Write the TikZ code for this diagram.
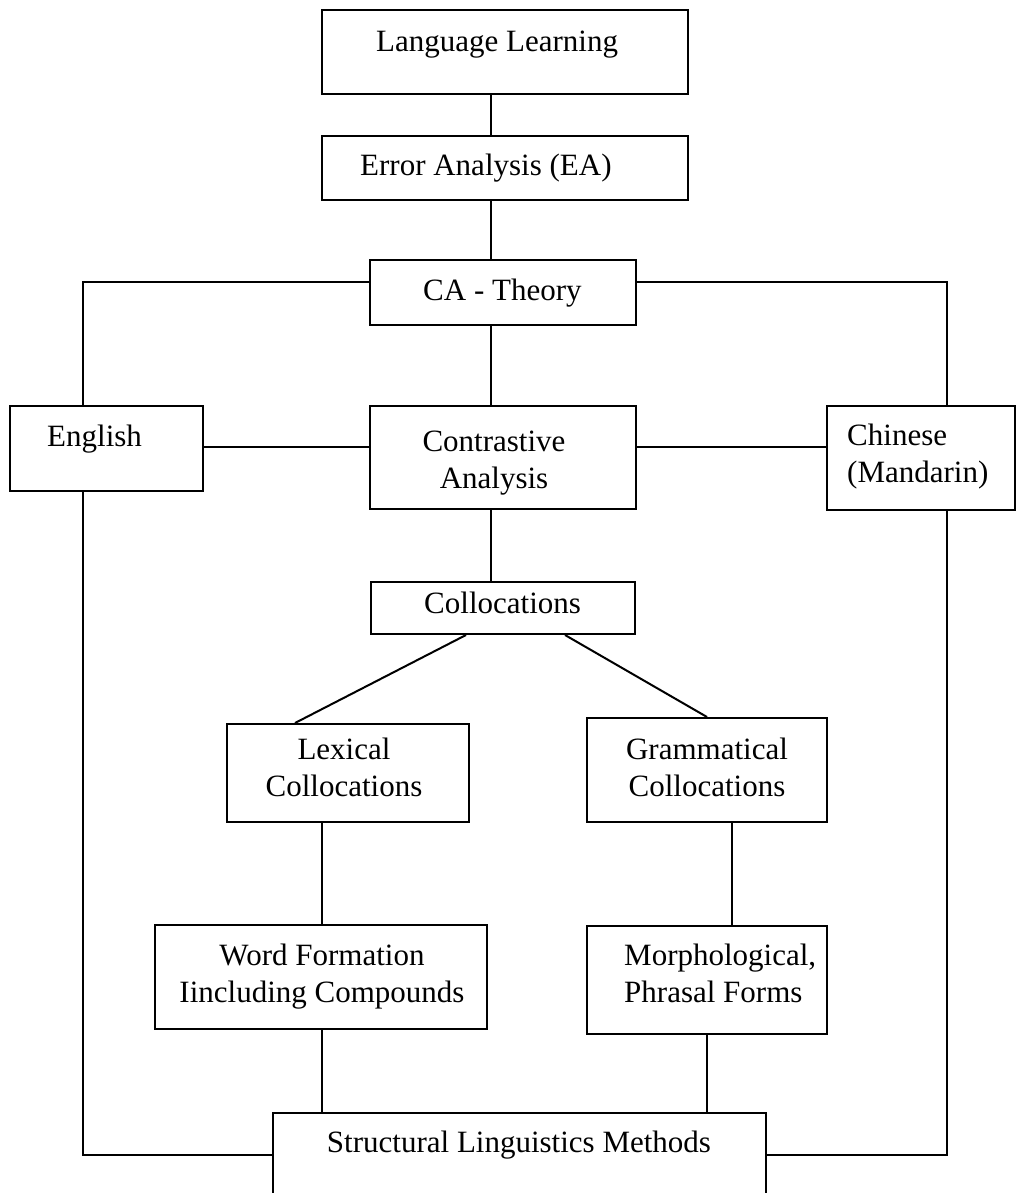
\documentclass[tikz,border=0pt]{standalone}
\usepackage{fontspec}
\setmainfont{Liberation Serif}
\begin{document}
\begin{tikzpicture}[x=1pt,y=-1pt,
  box/.style={draw=black,line width=2pt,rectangle,inner sep=0pt},
  txt/.style={inner sep=0pt,font=\fontsize{31}{37}\selectfont},
  link/.style={draw=black,line width=2pt}]
\useasboundingbox (0,0) rectangle (1017,1193);
\clip (0,0) rectangle (1017,1193);

% boxes
\node[box,minimum width=366pt,minimum height=84pt]  (ll)  at (505,52)     {};
\node[box,minimum width=366pt,minimum height=64pt]  (ea)  at (505,168)    {};
\node[box,minimum width=266pt,minimum height=65pt]  (ca)  at (503,292.5)  {};
\node[box,minimum width=266pt,minimum height=103pt] (con) at (503,457.5)  {};
\node[box,minimum width=193pt,minimum height=85pt]  (eng) at (106.5,448.5){};
\node[box,minimum width=188pt,minimum height=104pt] (chi) at (921,458)    {};
\node[box,minimum width=264pt,minimum height=52pt]  (col) at (503,608)    {};
\node[box,minimum width=242pt,minimum height=98pt]  (lex) at (348,773)    {};
\node[box,minimum width=240pt,minimum height=104pt] (gra) at (707,770)    {};
\node[box,minimum width=332pt,minimum height=104pt] (wf)  at (321,977)    {};
\node[box,minimum width=240pt,minimum height=108pt] (mor) at (707,980)    {};
\node[box,minimum width=493pt,minimum height=127pt] (slm) at (519.5,1176.5){};

% labels
\node[txt,anchor=base west] (llt)  at (376,52)  {Language Learning};
\node[txt,anchor=base west] (eat)  at (360,176) {Error Analysis (EA)};
\node[txt,anchor=base west] (cat)  at (423,300) {CA - Theory};
\node[txt,anchor=base,align=center] (cont) at (494,488) {Contrastive\\Analysis};
\node[txt,anchor=base west] (engt) at (47,446)  {English};
\node[txt,anchor=base west,align=left] (chit) at (847,482) {Chinese\\(Mandarin)};
\node[txt,anchor=base west] (colt) at (424,613) {Collocations};
\node[txt,anchor=base,align=center] (lext) at (344,796) {Lexical\\Collocations};
\node[txt,anchor=base,align=center] (grat) at (707,796) {Grammatical\\Collocations};
\node[txt,anchor=base,align=center] (wft)  at (322,1002) {Word Formation\\Iincluding Compounds};
\node[txt,anchor=base west,align=left] (mort) at (624,1002) {Morphological,\\Phrasal Forms};
\node[txt,anchor=base] (slmt) at (519,1152) {Structural Linguistics Methods};

% connectors
\draw[link] (ll.south -| 491,0) -- (ea.north -| 491,0);
\draw[link] (ea.south -| 491,0) -- (ca.north -| 491,0);
\draw[link] (ca.west |- 0,282) -| (eng.north -| 83,0);
\draw[link] (ca.east |- 0,282) -| (chi.north -| 947,0);
\draw[link] (ca.south -| 491,0) -- (con.north -| 491,0);
\draw[link] (eng.east |- 0,447) -- (con.west |- 0,447);
\draw[link] (con.east |- 0,447) -- (chi.west |- 0,447);
\draw[link] (con.south -| 491,0) -- (col.north -| 491,0);
\draw[link] (col.south -| 466,0) -- (lex.north -| 295,0);
\draw[link] (col.south -| 565,0) -- (gra.north -| 707,0);
\draw[link] (lex.south -| 322,0) -- (wf.north -| 322,0);
\draw[link] (gra.south -| 732,0) -- (mor.north -| 732,0);
\draw[link] (wf.south -| 322,0) -- (slm.north -| 322,0);
\draw[link] (mor.south -| 707,0) -- (slm.north -| 707,0);
\draw[link] (eng.south -| 83,0) |- (slm.west |- 0,1155);
\draw[link] (chi.south -| 947,0) |- (slm.east |- 0,1155);
\end{tikzpicture}
\end{document}
